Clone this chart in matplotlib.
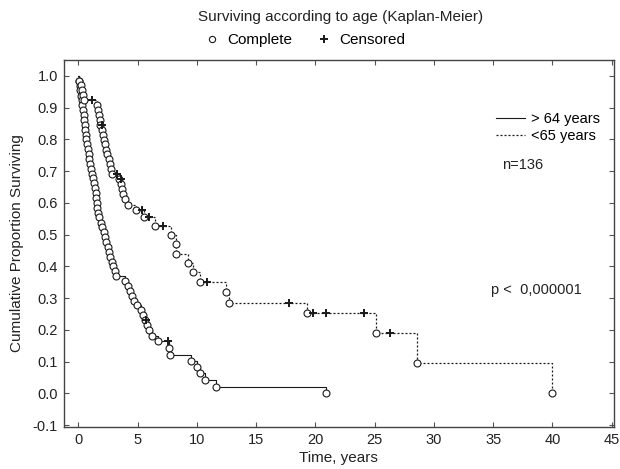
import matplotlib
matplotlib.use("Agg")
import matplotlib.pyplot as plt
from matplotlib.lines import Line2D

plt.rcParams['font.family'] = ['Liberation Sans', 'DejaVu Sans']

# ---- data ----
# > 64 years (solid): event times and survival after each event
old_t = [0.04, 0.10, 0.16, 0.22, 0.27, 0.33, 0.38, 0.43, 0.48, 0.53,
         0.58, 0.63, 0.68, 0.74, 0.80, 0.86, 0.93, 1.00, 1.07, 1.14,
         1.22, 1.30, 1.38, 1.45, 1.51, 1.56, 1.60, 1.65, 1.72, 1.90,
         2.02, 2.12, 2.24, 2.36, 2.47, 2.58, 2.68, 2.82, 2.93, 3.05,
         3.18, 3.92, 4.15, 4.35, 4.55, 4.72, 4.95, 5.25, 5.45, 5.60,
         5.80, 5.97, 6.17, 6.73, 7.65, 7.70, 9.54, 9.97, 10.24, 10.67,
         11.65, 20.9]
old_s = [0.985, 0.969, 0.954, 0.938, 0.923, 0.908, 0.892, 0.877, 0.862, 0.846,
         0.831, 0.815, 0.800, 0.785, 0.769, 0.754, 0.738, 0.723, 0.708, 0.692,
         0.677, 0.662, 0.646, 0.631, 0.615, 0.600, 0.585, 0.569, 0.554, 0.538,
         0.523, 0.508, 0.492, 0.477, 0.462, 0.446, 0.431, 0.415, 0.400, 0.385,
         0.369, 0.354, 0.338, 0.323, 0.308, 0.292, 0.277, 0.262, 0.246, 0.231,
         0.215, 0.199, 0.182, 0.166, 0.143, 0.121, 0.102, 0.083, 0.063, 0.042,
         0.021, 0.0]
old_cens_t = [5.72, 7.55]
old_cens_s = [0.231, 0.166]

# < 65 years (dotted)
young_t = [0.04, 0.20, 0.30, 0.38, 0.46, 1.58, 1.66, 1.73, 1.80, 1.86,
           2.03, 2.10, 2.18, 2.27, 2.36, 2.45, 2.55, 2.64, 2.73, 2.85,
           3.42, 3.62, 3.68, 3.78, 3.92, 4.20, 4.85, 5.50, 6.50, 7.85,
           8.20, 8.27, 9.22, 9.70, 10.25, 12.45, 12.70, 19.25, 25.1, 28.6,
           40.0]
young_s = [0.985, 0.970, 0.955, 0.940, 0.924, 0.909, 0.893, 0.877, 0.861, 0.846,
           0.830, 0.815, 0.799, 0.784, 0.768, 0.753, 0.737, 0.722, 0.706, 0.691,
           0.675, 0.659, 0.643, 0.627, 0.611, 0.594, 0.576, 0.556, 0.527, 0.498,
           0.469, 0.440, 0.410, 0.381, 0.352, 0.320, 0.286, 0.252, 0.190, 0.095,
           0.0]
young_cens_t = [1.15, 1.97, 3.28, 3.60, 5.35, 5.93, 7.10, 10.85, 17.8, 19.8, 20.9, 24.1, 26.3]
young_cens_s = [0.924, 0.846, 0.691, 0.675, 0.576, 0.556, 0.527, 0.352, 0.286, 0.252, 0.252, 0.252, 0.190]

x_ticks = [0, 5, 10, 15, 20, 25, 30, 35, 40, 45]
y_ticks = [-0.1, 0.0, 0.1, 0.2, 0.3, 0.4, 0.5, 0.6, 0.7, 0.8, 0.9, 1.0]

series_labels = ["> 64 years", "<65 years"]

# ---- figure ----
W, H = 620, 469
fig = plt.figure(figsize=(W / 100, H / 100), dpi=100)
ax = fig.add_axes([63.5 / W, 1 - 427 / H, (614 - 63.5) / W, (427 - 60) / H])

lc = '#1a1a1a'
tc = '#222222'
ax.plot([0] + old_t, [1.0] + old_s, drawstyle='steps-post', color=lc, lw=0.8)
ax.plot([0] + young_t, [1.0] + young_s, drawstyle='steps-post', color=lc, lw=0.9,
        linestyle=(0, (1.6, 1.6)))

mk = dict(marker='o', linestyle='none', ms=5.0, mfc='white', mec=lc, mew=0.8)
ax.plot(old_t, old_s, **mk)
ax.plot(young_t, young_s, **mk)
ck = dict(marker='+', linestyle='none', ms=6, mec=lc, mew=1.4)
ax.plot(old_cens_t, old_cens_s, **ck)
ax.plot(young_cens_t, young_cens_s, **ck)

ax.set_xlim(-1.26, 45.2)
ax.set_ylim(-0.106, 1.05)
ax.set_xticks(x_ticks)
ax.set_yticks(y_ticks)
ax.set_yticklabels([f"{v:.1f}" for v in y_ticks])
ax.tick_params(direction='in', length=3.5, width=0.8, color='#555555',
               top=True, right=True, labelsize=10.5, labelcolor=tc, pad=4)
for sp in ax.spines.values():
    sp.set_color('#444444')
    sp.set_linewidth(1.0)

ax.set_xlabel("Time, years", fontsize=11, color=tc, labelpad=3)
ax.set_ylabel("Cumulative Proportion Surviving", fontsize=11, color=tc, labelpad=6)

# inner legend
h1 = Line2D([], [], color=lc, lw=0.8)
h2 = Line2D([], [], color=lc, lw=0.9, linestyle=(0, (1.6, 1.6)))
ax.legend([h1, h2], series_labels, loc='upper left', bbox_to_anchor=(0.775, 0.875),
          frameon=False, fontsize=10.5, handlelength=2.0, handletextpad=0.4,
          labelspacing=0.25, borderaxespad=0)
ax.text(0.797, 0.715, "n=136", transform=ax.transAxes, fontsize=10.5, va='center', color=tc)
ax.text(0.776, 0.373, "p <  0,000001", transform=ax.transAxes, fontsize=10.5, va='center', color=tc)

# title and marker legend
fig.text(341 / W, 1 - 17 / H, "Surviving according to age (Kaplan-Meier)",
         ha='center', va='center', fontsize=11, color=tc)
hc = Line2D([], [], marker='o', linestyle='none', ms=4.5, mfc='white', mec=lc, mew=0.8)
hp = Line2D([], [], marker='+', linestyle='none', ms=6, mec=lc, mew=1.4)
fig.legend([hc, hp], ["Complete", "Censored"], loc='center', bbox_to_anchor=(305 / W, 1 - 40 / H),
           ncol=2, frameon=False, fontsize=11, handlelength=1.0, handletextpad=0.5,
           columnspacing=1.6, borderaxespad=0)

fig.savefig("out.png", dpi=100)
